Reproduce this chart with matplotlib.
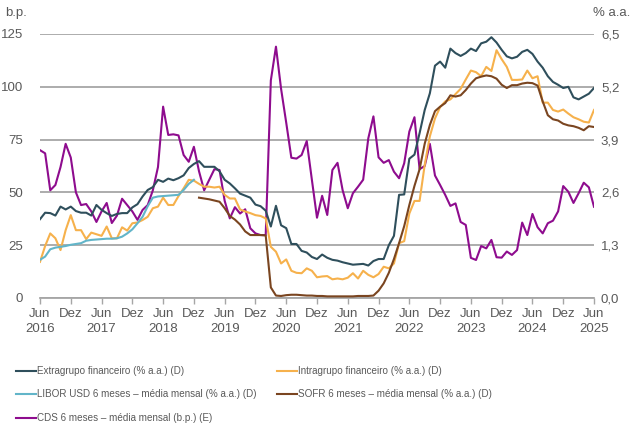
import matplotlib
matplotlib.use('Agg')
import matplotlib.pyplot as plt
from matplotlib.lines import Line2D
import numpy as np

plt.rcParams['font.family'] = ['Liberation Sans', 'DejaVu Sans']

# monthly data, Jun 2016 .. Jun 2025
extragrupo = [1.94, 2.10, 2.09, 2.03, 2.25, 2.18, 2.25, 2.14, 2.10, 2.10, 2.03, 2.29, 2.17, 2.09, 2.02, 2.07, 2.09, 2.09,
              2.23, 2.31, 2.50, 2.66, 2.73, 2.91, 2.86, 2.94, 2.90, 2.95, 3.02, 3.20, 3.30, 3.37, 3.23, 3.23, 3.23, 3.12,
              2.91, 2.82, 2.70, 2.57, 2.52, 2.47, 2.30, 2.26, 2.15, 1.76, 2.27, 1.79, 1.72, 1.33, 1.33, 1.16, 1.12, 1.01,
              0.96, 1.07, 0.99, 0.94, 0.92, 0.88, 0.85, 0.82, 0.83, 0.84, 0.80, 0.91, 0.96, 0.96, 1.30, 1.53, 2.54, 2.55,
              3.43, 3.53, 4.06, 4.63, 5.04, 5.72, 5.82, 5.67, 6.14, 6.03, 5.96, 6.03, 6.14, 6.08, 6.27, 6.31, 6.42, 6.29,
              6.11, 5.95, 5.90, 5.94, 6.06, 6.11, 6.01, 5.82, 5.67, 5.46, 5.32, 5.25, 5.17, 5.20, 4.94, 4.89, 4.96, 5.03, 5.17]

intragrupo = [0.89, 1.28, 1.59, 1.47, 1.18, 1.67, 2.04, 1.67, 1.67, 1.45, 1.61, 1.57, 1.53, 1.76, 1.47, 1.47, 1.74, 1.66,
              1.84, 1.86, 1.92, 2.00, 2.21, 2.25, 2.47, 2.29, 2.29, 2.51, 2.70, 2.91, 2.89, 2.81, 2.74, 2.74, 2.72, 2.74,
              2.54, 2.45, 2.45, 2.18, 2.13, 2.09, 2.04, 2.02, 1.96, 1.26, 1.14, 0.85, 0.95, 0.67, 0.62, 0.61, 0.73, 0.67,
              0.51, 0.53, 0.54, 0.46, 0.48, 0.46, 0.50, 0.61, 0.48, 0.67, 0.57, 0.51, 0.59, 0.77, 0.73, 0.85, 1.35, 1.40,
              2.08, 2.39, 2.39, 3.28, 3.98, 4.42, 4.70, 4.84, 4.89, 5.02, 5.15, 5.38, 5.60, 5.56, 5.46, 5.69, 5.59, 6.10,
              5.88, 5.69, 5.37, 5.37, 5.38, 5.60, 5.41, 5.46, 4.81, 4.81, 4.63, 4.59, 4.64, 4.54, 4.45, 4.40, 4.34, 4.32, 4.63]

# Jun 2016 .. Dez 2018
libor = [0.94, 1.02, 1.20, 1.24, 1.26, 1.28, 1.31, 1.33, 1.35, 1.41, 1.43, 1.44, 1.45, 1.46, 1.46, 1.47, 1.51, 1.59,
         1.69, 1.84, 2.00, 2.26, 2.47, 2.50, 2.51, 2.52, 2.53, 2.54, 2.66, 2.81, 2.91]

# Jan 2019 .. Jun 2025
sofr = [2.47, 2.45, 2.43, 2.40, 2.37, 2.21, 2.02, 1.93, 1.81, 1.64, 1.55, 1.55, 1.55, 1.54, 0.26,
        0.06, 0.05, 0.07, 0.08, 0.08, 0.07, 0.06, 0.06, 0.05, 0.05, 0.04, 0.04, 0.04, 0.04, 0.04, 0.04, 0.05, 0.05,
        0.05, 0.06, 0.18, 0.36, 0.62, 0.96, 1.35, 1.77, 2.29, 2.76, 3.17, 3.80, 4.26, 4.60, 4.71, 4.80, 4.99, 4.96,
        4.99, 5.12, 5.28, 5.41, 5.45, 5.48, 5.46, 5.40, 5.25, 5.17, 5.24, 5.24, 5.28, 5.30, 5.29, 5.23, 4.84, 4.50,
        4.40, 4.37, 4.29, 4.25, 4.23, 4.19, 4.13, 4.23, 4.21]

cds = [70, 68.5, 51, 53.5, 62, 73, 66.5, 50, 44, 44.5, 41, 36, 41, 45, 35.5, 39, 47, 44, 41,
       37, 41.7, 44, 51, 62, 90.6, 77.2, 77.5, 77, 67.7, 64.5, 71.6, 60, 51, 56, 61, 60.6, 46, 37.7,
       43, 40, 42, 33, 30.6, 29.8, 29.8, 103, 119, 99, 83, 66.4, 66, 67.7, 74.3, 56, 38, 48.4, 39.3,
       60.6, 64, 51, 42.5, 49.6, 52.7, 56, 75.6, 86, 66.6, 64, 65.3, 59.8, 56.7, 63.8, 78.8, 85.6, 61, 62.5,
       73, 58, 53.5, 48.8, 43.6, 44.8, 36, 34.6, 19, 18, 24.6, 23.5, 27.5, 19.3, 19.1, 22, 20.4,
       22.7, 35.7, 29.8, 39.8, 33.5, 30.6, 35.4, 36.6, 41, 53, 50.3, 45, 49.6, 54.6, 52.4, 43.2]

months = np.arange(len(cds))
libor_x = np.arange(len(libor))
sofr_x = np.arange(len(cds) - len(sofr), len(cds))

xlabels = []
for yr in range(2016, 2026):
    xlabels.append('Jun\n%d' % yr)
    if yr < 2025:
        xlabels.append('Dez')

c_extra = '#2f4f5c'
c_intra = '#f6b14c'
c_libor = '#62b5c9'
c_sofr = '#7a4520'
c_cds = '#8e0c8e'
grey = '#595959'
gridc = '#a6a6a6'

fig = plt.figure(figsize=(6.35, 4.3), dpi=100)
ax = fig.add_axes([40/635, 1-298/430, 554/635, 264/430])
ax2 = ax.twinx()

ax.set_xlim(0, 108)
ax.set_ylim(0, 125)
ax2.set_ylim(0, 6.5)

ax.set_yticks([0, 25, 50, 75, 100, 125])
ax2.set_yticks([0, 1.3, 2.6, 3.9, 5.2, 6.5])
ax2.set_yticklabels(['0,0', '1,3', '2,6', '3,9', '5,2', '6,5'])
ax.set_xticks(np.arange(0, 109, 6))
ax.set_xticklabels(xlabels, linespacing=1.4)

ax.yaxis.grid(True, color=gridc, linewidth=1.3)
ax.set_axisbelow(True)
for a in (ax, ax2):
    for s in ['top', 'left', 'right', 'bottom']:
        a.spines[s].set_visible(False)
ax.spines['bottom'].set_visible(True)
ax.spines['bottom'].set_color(gridc)
ax.spines['bottom'].set_linewidth(1.3)

ax.tick_params(axis='y', length=0, pad=12, labelsize=9.5, labelcolor=grey)
ax2.tick_params(axis='y', length=0, pad=5, labelsize=9.5, labelcolor=grey)
ax.tick_params(axis='x', length=4, width=1, color=gridc, pad=3, labelsize=9.5, labelcolor=grey)

ax.plot(months, cds, color=c_cds, linewidth=1.5)
ax2.plot(months, extragrupo, color=c_extra, linewidth=1.5)
ax2.plot(months, intragrupo, color=c_intra, linewidth=1.5)
ax2.plot(libor_x, libor, color=c_libor, linewidth=1.5)
ax2.plot(sofr_x, sofr, color=c_sofr, linewidth=1.5)

fig.text(5/635, 1-13/430, 'b.p.', fontsize=9.5, color=grey, va='center', ha='left')
fig.text(630/635, 1-13/430, '% a.a.', fontsize=9.5, color=grey, va='center', ha='right')

# legend, drawn by hand in two columns
entries = [
    ('Extragrupo financeiro (% a.a.) (D)', c_extra, 16, 371),
    ('Intragrupo financeiro (% a.a.) (D)', c_intra, 277, 371),
    ('LIBOR USD 6 meses – média mensal (% a.a.) (D)', c_libor, 16, 394),
    ('SOFR 6 meses – média mensal (% a.a.) (D)', c_sofr, 277, 394),
    ('CDS 6 meses – média mensal (b.p.) (E)', c_cds, 16, 418),
]
for label, col, px, py in entries:
    yy = 1 - py/430
    fig.add_artist(Line2D([px/635, (px+20)/635], [yy, yy], color=col, linewidth=1.5,
                          transform=fig.transFigure))
    fig.text((px+21)/635, yy, label, fontsize=7.1, color=grey, va='center', ha='left')

fig.savefig('out.png', dpi=100)
plt.close(fig)
